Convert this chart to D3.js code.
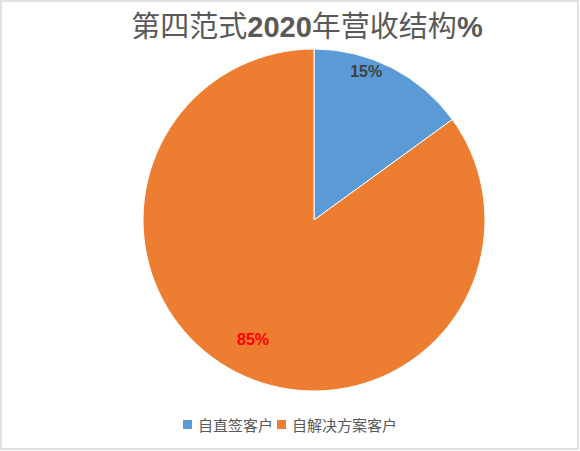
<!DOCTYPE html>
<html><head><meta charset="utf-8">
<script src="https://cdn.jsdelivr.net/npm/d3@7"></script>
<style>body{margin:0;background:#fff;}svg{display:block;}</style>
</head><body>
<script>
const categories = ["自直签客户", "自解决方案客户"];
const values = [15, 85];
const labels = ["15%", "85%"];
const colors = ["#5B9BD5", "#ED7D31"];
const labelColors = ["#404040", "#FF0000"];

const W = 580, H = 451;
const svg = d3.select("body").append("svg").attr("width", W).attr("height", H);
svg.append("rect").attr("x", 1).attr("y", 1).attr("width", W - 3).attr("height", H - 3)
  .attr("fill", "#fff").attr("stroke", "#d9d9d9").attr("stroke-width", 1.5);

const title = svg.append("text").attr("x", 307).attr("y", 37).attr("text-anchor", "middle")
  .attr("fill", "#595959").attr("font-size", 29).attr("font-family", "'Noto Sans CJK SC', sans-serif");
title.append("tspan").text("第四范式");
title.append("tspan").attr("font-weight", "bold").attr("font-family", "'Liberation Sans', sans-serif").text("2020");
title.append("tspan").text("年营收结构");
title.append("tspan").attr("font-weight", "bold").attr("font-family", "'Liberation Sans', sans-serif").text("%");

const cx = 314, cy = 220, r = 171;
const pie = d3.pie().sort(null).value(d => d)(values);
const arc = d3.arc().innerRadius(0).outerRadius(r);
const g = svg.append("g").attr("transform", `translate(${cx},${cy})`);
g.selectAll("path").data(pie).join("path")
  .attr("d", arc).attr("fill", (d, i) => colors[i]).attr("stroke", "#fff").attr("stroke-width", 1);

// label placement (radius fraction, angle shift in radians)
const lblRadius = [0.92, 0.785];
const lblShift = [-0.133, 0];
g.selectAll("text.lbl").data(pie).join("text").attr("class", "lbl")
  .attr("transform", (d, i) => {
    const a = (d.startAngle + d.endAngle) / 2 + lblShift[i];
    const rr = r * lblRadius[i];
    return `translate(${Math.sin(a) * rr},${-Math.cos(a) * rr})`;
  })
  .attr("text-anchor", "middle").attr("dy", "0.35em")
  .attr("font-family", "'Liberation Sans', sans-serif").attr("font-weight", "bold").attr("font-size", 16)
  .attr("fill", (d, i) => labelColors[i]).text((d, i) => labels[i]);

const legend = svg.append("g").attr("font-family", "'Noto Sans CJK SC', sans-serif").attr("font-size", 15).attr("fill", "#595959");
const lx = [183, 277];
categories.forEach((c, i) => {
  legend.append("rect").attr("x", lx[i]).attr("y", 420).attr("width", 9).attr("height", 9).attr("fill", colors[i]);
  legend.append("text").attr("x", lx[i] + 15).attr("y", 431).text(c);
});
</script>
</body></html>
